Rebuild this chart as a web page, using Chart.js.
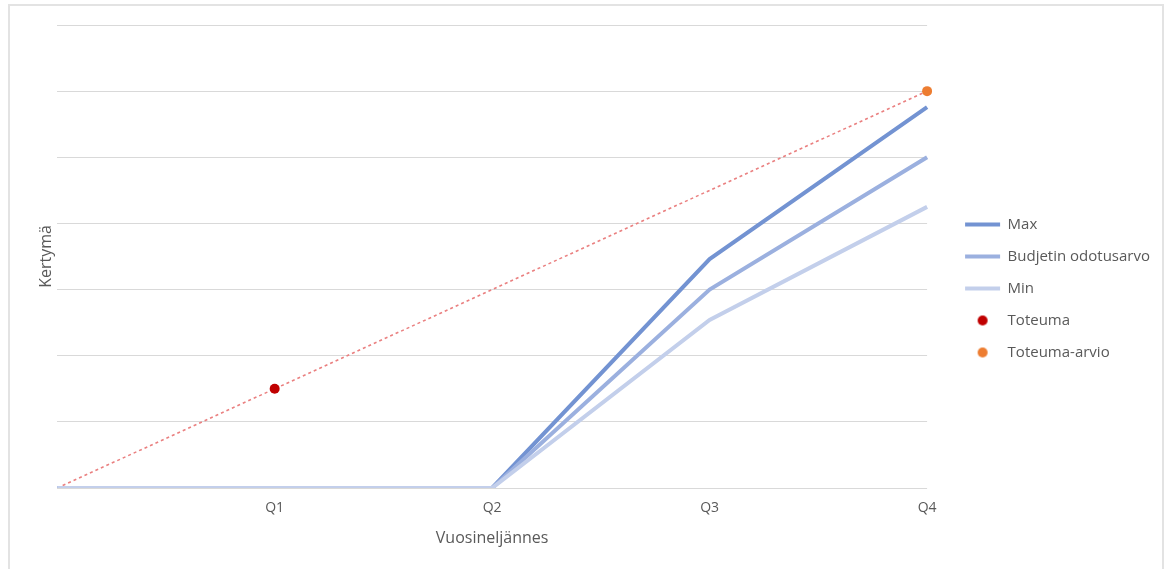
<!DOCTYPE html>
<html>
<head>
<meta charset="utf-8">
<script src="https://cdn.jsdelivr.net/npm/chart.js@4"></script>
<style>
  html, body { margin: 0; padding: 0; background: #fff; }
  #wrap { position: absolute; left: 0; top: 0; width: 1168px; height: 569px; }
  #frame { position: absolute; left: 8px; top: 4px; width: 1156px; height: 600px;
           border: 2px solid #e3e3e3; box-sizing: border-box; pointer-events: none; }
</style>
</head>
<body>
<div id="wrap"><canvas id="chart"></canvas></div>
<div id="frame"></div>
<script>
  // Data
  const quarters = ['', 'Q1', 'Q2', 'Q3', 'Q4'];
  const maxValues = [0, 0, 0, 3.46, 5.76];
  const budgetValues = [0, 0, 0, 3.0, 5.0];
  const minValues = [0, 0, 0, 2.54, 4.25];
  const actualValues = [null, 1.5, null, null, null];
  const estimateValues = [null, null, null, null, 6.0];
  const trendValues = [0, 1.5, 3.0, 4.5, 6.0];

  const textColor = '#595959';
  const family = '"Open Sans", "Noto Sans", sans-serif';

  // small dot image for legend entries of point series
  function dotImage(color) {
    const c = document.createElement('canvas');
    c.width = 12; c.height = 12;
    const g = c.getContext('2d');
    g.fillStyle = color;
    g.beginPath();
    g.arc(6, 6, 5, 0, Math.PI * 2);
    g.fill();
    return c;
  }

  // push the legend a bit away from the plot area
  const legendGap = {
    id: 'legendGap',
    afterLayout(chart) {
      chart.legend.left += 21;
      chart.legend.right += 21;
    }
  };

  const ctx = document.getElementById('chart').getContext('2d');

  const chart = new Chart(ctx, {
    type: 'line',
    data: {
      labels: quarters,
      datasets: [
        { label: 'Max', data: maxValues, borderColor: '#7393d2', borderWidth: 4, pointRadius: 0, order: 4 },
        { label: 'Budjetin odotusarvo', data: budgetValues, borderColor: '#9bb0df', borderWidth: 4, pointRadius: 0, order: 3 },
        { label: 'Min', data: minValues, borderColor: '#c3cfeb', borderWidth: 4, pointRadius: 0, order: 2 },
        { label: 'Toteuma', data: actualValues, showLine: false, pointRadius: 5, pointBackgroundColor: '#c00000', pointBorderWidth: 0, borderColor: '#c00000', order: 0 },
        { label: 'Toteuma-arvio', data: estimateValues, showLine: false, pointRadius: 5, pointBackgroundColor: '#ed7d31', pointBorderWidth: 0, borderColor: '#ed7d31', order: 1 },
        { label: 'trend', data: trendValues, borderColor: '#ea8080', borderWidth: 1.6, borderDash: [3, 3], pointRadius: 0, order: 5 }
      ]
    },
    options: {
      responsive: true,
      maintainAspectRatio: false,
      animation: false,
      layout: { padding: { left: 30, top: 25, right: 29, bottom: 17 } },
      plugins: {
        tooltip: { enabled: false },
        legend: {
          position: 'right',
          labels: {
            color: textColor,
            font: { family: family, size: 15 },
            usePointStyle: true,
            pointStyleWidth: 35,
            padding: 17,
            generateLabels(chart) {
              // keep dataset index order, drop the trend line
              return chart.data.datasets.slice(0, 5).map((ds, i) => ({
                text: ds.label,
                datasetIndex: i,
                fontColor: textColor,
                strokeStyle: ds.borderColor,
                fillStyle: ds.borderColor,
                lineWidth: ds.showLine === false ? 0 : ds.borderWidth,
                pointStyle: ds.showLine === false ? dotImage(ds.pointBackgroundColor) : 'line',
                hidden: false
              }));
            }
          }
        }
      },
      scales: {
        x: {
          grid: { display: false, drawTicks: false },
          border: { display: false },
          ticks: { color: textColor, font: { family: family, size: 14 }, padding: 12, maxRotation: 0 },
          title: { display: true, text: 'Vuosineljännes', color: textColor, font: { family: family, size: 16 }, padding: { top: 0, bottom: 4 } }
        },
        y: {
          min: 0,
          max: 7,
          ticks: { display: false, stepSize: 1 },
          grid: { color: '#d9d9d9', lineWidth: 1, drawTicks: false },
          border: { display: false },
          title: { display: true, text: 'Kertymä', color: textColor, font: { family: family, size: 16 }, padding: { top: 7, bottom: 1 } }
        }
      }
    },
    plugins: [legendGap]
  });
</script>
</body>
</html>
